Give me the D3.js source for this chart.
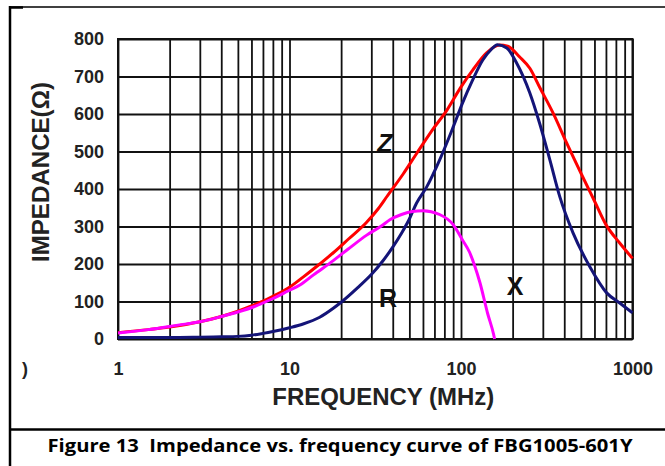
<!DOCTYPE html>
<html>
<head>
<meta charset="utf-8">
<script src="https://cdn.jsdelivr.net/npm/d3@7"></script>
<style>
  html, body { margin: 0; padding: 0; background: #fff; }
  svg { display: block; }
</style>
</head>
<body>
<div id="chart"></div>
<script>
// Curve data: [frequency MHz, impedance ohm]
const zCurve = [
    [1, 17], [1.5, 25], [2, 32], [3, 46], [4, 60], [5, 74], [6, 88], [7, 101], [8, 114],
    [10, 138], [12, 165], [15, 200], [18, 230], [22, 266], [28, 310], [33, 348], [37, 380],
    [46, 440], [55, 494], [68, 557], [83, 611], [99, 669], [117, 717], [141, 763],
    [168, 784], [187, 781], [220, 752], [252, 722], [287, 672], [344, 603], [413, 523],
    [513, 432], [600, 368], [700, 305], [842, 256], [1000, 215]
];
const xCurve = [
    [1, 4], [2, 4], [3, 5], [4, 6], [5, 7], [6, 10], [7, 15], [8, 20], [10, 30], [12, 40],
    [15, 58], [18, 82], [20, 98], [25, 137], [30, 172], [35, 208], [40, 245], [45, 282],
    [50, 320], [55, 362], [63, 405], [75, 477], [90, 565], [102, 629], [117, 691], [134, 744],
    [150, 772], [163, 785], [185, 776], [211, 736], [252, 656], [287, 576], [330, 477],
    [377, 379], [450, 283], [565, 192], [707, 123], [842, 96], [1000, 70]
];
const rCurve = [
    [1, 16], [1.27, 21], [1.5, 25], [2.24, 37], [3, 46], [3.93, 59], [5, 72], [6.2, 86],
    [8, 108], [9.8, 128], [11.5, 144], [13.8, 171], [18, 209], [22, 240], [28.2, 277],
    [34.5, 302], [38.5, 318], [45, 332], [52, 340], [60, 342], [75, 332], [90, 305],
    [102, 264], [112, 232], [120, 196], [129, 150], [143, 68], [155, 12], [157, 0]
];
const yTicks = [0, 100, 200, 300, 400, 500, 600, 700, 800];
const xLabels = [1, 10, 100, 1000];

const width = 665;
const height = 466;
const plot = { left: 118, right: 632.5, top: 39, bottom: 339 };

const svg = d3.select("#chart")
    .append("svg")
    .attr("width", width)
    .attr("height", height)
    .style("font-family", "'Liberation Sans', Arial, sans-serif");

svg.append("rect").attr("width", width).attr("height", height).attr("fill", "#fff");

// scales
const x = d3.scaleLog().domain([1, 1000]).range([plot.left, plot.right]);
const y = d3.scaleLinear().domain([0, 800]).range([plot.bottom, plot.top]);

// outer figure frame and caption divider
svg.append("line").attr("x1", 10).attr("x2", 665).attr("y1", 7).attr("y2", 7)
    .attr("stroke", "#000").attr("stroke-width", 1.5);
svg.append("line").attr("x1", 10).attr("x2", 23).attr("y1", 7.5).attr("y2", 7.5)
    .attr("stroke", "#000").attr("stroke-width", 2.5);
svg.append("line").attr("x1", 10).attr("x2", 10).attr("y1", 6).attr("y2", height)
    .attr("stroke", "#000").attr("stroke-width", 2.5);
svg.append("line").attr("x1", 10).attr("x2", 665).attr("y1", 429.5).attr("y2", 429.5)
    .attr("stroke", "#000").attr("stroke-width", 2.5);

// vertical grid (log decades)
const xGrid = svg.append("g")
    .attr("transform", `translate(0,${plot.bottom})`)
    .call(d3.axisBottom(x)
        .ticks(10)
        .tickSize(-(plot.bottom - plot.top))
        .tickFormat(""));
xGrid.select(".domain").remove();
xGrid.selectAll(".tick line").attr("stroke", "#111").attr("stroke-width", 1.8);

// horizontal grid + y labels
const yAxis = svg.append("g")
    .attr("transform", `translate(${plot.left},0)`)
    .call(d3.axisLeft(y)
        .tickValues(yTicks)
        .tickSize(-(plot.right - plot.left))
        .tickPadding(14)
        .tickFormat(d3.format("d")));
yAxis.select(".domain").remove();
yAxis.selectAll(".tick line").attr("stroke", "#111").attr("stroke-width", 1.8);
yAxis.selectAll(".tick text")
    .attr("fill", "#222")
    .style("font-size", "18px")
    .style("font-weight", "bold")
    .style("font-family", "'Liberation Sans', Arial, sans-serif");

// x labels only at decades
const xAxis = svg.append("g")
    .attr("transform", `translate(0,${plot.bottom})`)
    .call(d3.axisBottom(x)
        .tickValues(xLabels)
        .tickSize(0)
        .tickPadding(23)
        .tickFormat(d3.format("d")));
xAxis.select(".domain").remove();
xAxis.selectAll(".tick text")
    .attr("fill", "#222")
    .style("font-size", "18px")
    .style("font-weight", "bold")
    .style("font-family", "'Liberation Sans', Arial, sans-serif");

// plot frame
svg.append("rect")
    .attr("x", plot.left).attr("y", plot.top)
    .attr("width", plot.right - plot.left).attr("height", plot.bottom - plot.top)
    .attr("fill", "none").attr("stroke", "#111").attr("stroke-width", 2);

// cropped leftover glyph from the source image
svg.append("text").attr("x", 25).attr("y", 375).attr("text-anchor", "middle")
    .style("font-size", "18px").style("font-weight", "bold").attr("fill", "#222").text(")");

// curves
const line = d3.line()
    .x(d => x(d[0]))
    .y(d => y(d[1]))
    .curve(d3.curveMonotoneX);

const curves = [
    { data: zCurve, color: "#ff0000" },
    { data: xCurve, color: "#141478" },
    { data: rCurve, color: "#ff00ff" }
];
curves.forEach(c => {
    svg.append("path")
        .datum(c.data)
        .attr("d", line)
        .attr("fill", "none")
        .attr("stroke", c.color)
        .attr("stroke-width", 3)
        .attr("stroke-linejoin", "round");
});

// curve labels
const curveLabels = [
    { text: "Z", x: 385, y: 152, italic: true },
    { text: "R", x: 388, y: 307, italic: false },
    { text: "X", x: 515, y: 295, italic: false }
];
svg.selectAll(".curve-label")
    .data(curveLabels)
    .enter()
    .append("text")
    .attr("class", "curve-label")
    .attr("x", d => d.x)
    .attr("y", d => d.y)
    .attr("text-anchor", "middle")
    .attr("fill", "#111")
    .style("font-size", "25px")
    .style("font-weight", "bold")
    .style("font-style", d => d.italic ? "italic" : "normal")
    .text(d => d.text);

// axis titles
svg.append("text")
    .attr("x", (plot.left + plot.right) / 2 + 8)
    .attr("y", 405)
    .attr("text-anchor", "middle")
    .attr("fill", "#222")
    .attr("textLength", 222)
    .attr("lengthAdjust", "spacingAndGlyphs")
    .style("font-size", "23px")
    .style("font-weight", "bold")
    .text("FREQUENCY (MHz)");

svg.append("text")
    .attr("transform", "translate(49,172) rotate(-90)")
    .attr("text-anchor", "middle")
    .attr("fill", "#222")
    .attr("textLength", 180)
    .attr("lengthAdjust", "spacingAndGlyphs")
    .style("font-size", "23px")
    .style("font-weight", "bold")
    .text("IMPEDANCE(Ω)");

// caption (keeps the double space after the figure number)
svg.append("text")
    .attr("x", 340)
    .attr("y", 452)
    .attr("text-anchor", "middle")
    .attr("fill", "#000")
    .attr("textLength", 585)
    .attr("lengthAdjust", "spacingAndGlyphs")
    .style("white-space", "pre")
    .style("font-family", "'Open Sans', 'Noto Sans', sans-serif")
    .style("font-size", "18px")
    .style("font-weight", "bold")
    .text("Figure 13  Impedance vs. frequency curve of FBG1005-601Y");
</script>
</body>
</html>
